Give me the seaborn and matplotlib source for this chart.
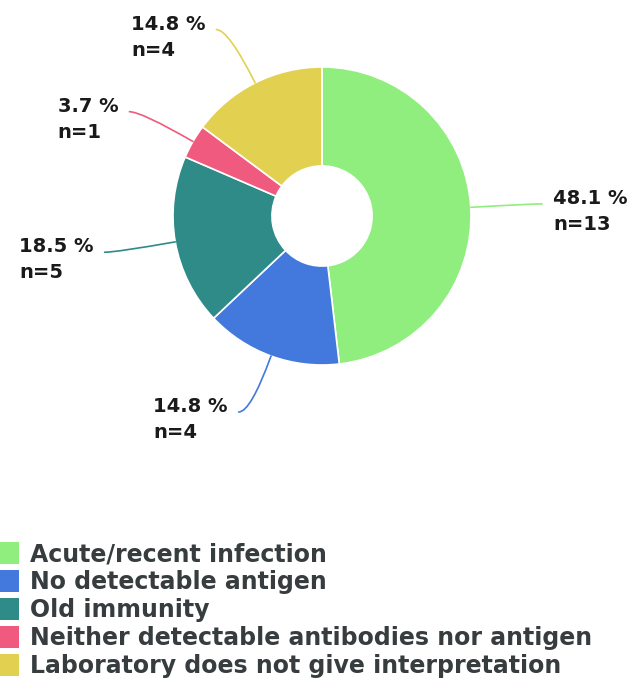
import numpy as np
import pandas as pd
import matplotlib
matplotlib.use("Agg")
import matplotlib.pyplot as plt
from matplotlib.patches import Rectangle
import seaborn as sns

# ---- data ----
categories = [
    "Acute/recent infection",
    "No detectable antigen",
    "Old immunity",
    "Neither detectable antibodies nor antigen",
    "Laboratory does not give interpretation",
]
counts = [13, 4, 5, 1, 4]
colors = ["#90ee7e", "#4379dc", "#2e8b88", "#f05a7e", "#e2d150"]

df = pd.DataFrame({"category": categories, "n": counts, "color": colors})
df["pct"] = df["n"] / df["n"].sum() * 100

sns.set_theme(style="white")
plt.rcParams["font.family"] = ["DejaVu Sans"]

W, H, DPI = 632, 683, 100
fig = plt.figure(figsize=(W / DPI, H / DPI), dpi=DPI)
fig.patch.set_facecolor("white")

# axes covering the whole figure, 1 data unit = R px
cx, cy, R = 322, 216, 149
ax = fig.add_axes([0, 0, 1, 1])

wedges, _ = ax.pie(
    df["n"], colors=df["color"], startangle=90, counterclock=False, radius=1.0,
    wedgeprops=dict(width=0.664, edgecolor="white", linewidth=1.2),
)
ax.set_aspect("auto")
ax.set_xlim(-cx / R, (W - cx) / R)
ax.set_ylim(-(H - cy) / R, cy / R)
ax.axis("off")

PT = 72.0 / DPI  # points per pixel
label_r = 1.40
nudge = 0.08
for w, (_, row) in zip(wedges, df.iterrows()):
    mid = (w.theta1 + w.theta2) / 2.0
    a = np.deg2rad(mid)
    start = (np.cos(a), np.sin(a))
    side = 1 if np.cos(a) >= 0 else -1
    end = (label_r * np.cos(a) + side * nudge, label_r * np.sin(a))
    ax.annotate(
        "", xy=start, xytext=end,
        arrowprops=dict(arrowstyle="-", color=row["color"], lw=1.2,
                        shrinkA=0, shrinkB=0,
                        connectionstyle=f"angle3,angleA=0,angleB={mid}"),
    )
    txt = f"{row['pct']:.1f} %\nn={row['n']}"
    ax.annotate(
        txt, xy=end, xytext=(side * 11 * PT, -26 * PT), textcoords="offset points",
        ha="left" if side > 0 else "right", va="baseline",
        multialignment="left", fontsize=14, fontweight="bold",
        color="#1a1a1a", linespacing=1.47,
    )

handles = [Rectangle((0, 0), 1, 1, facecolor=c, edgecolor="none") for c in df["color"]]
leg = fig.legend(
    handles, df["category"], loc="upper left",
    bbox_to_anchor=(-5 / W, 1 - 542 / H), bbox_transform=fig.transFigure,
    frameon=False, borderpad=0, borderaxespad=0,
    handlelength=1.02, handleheight=1.02, handletextpad=0.45, labelspacing=0.17,
    prop=dict(size=17, weight="bold"),
)
for t in leg.get_texts():
    t.set_color("#373d3f")

fig.savefig("out.png", dpi=DPI, facecolor="white")
